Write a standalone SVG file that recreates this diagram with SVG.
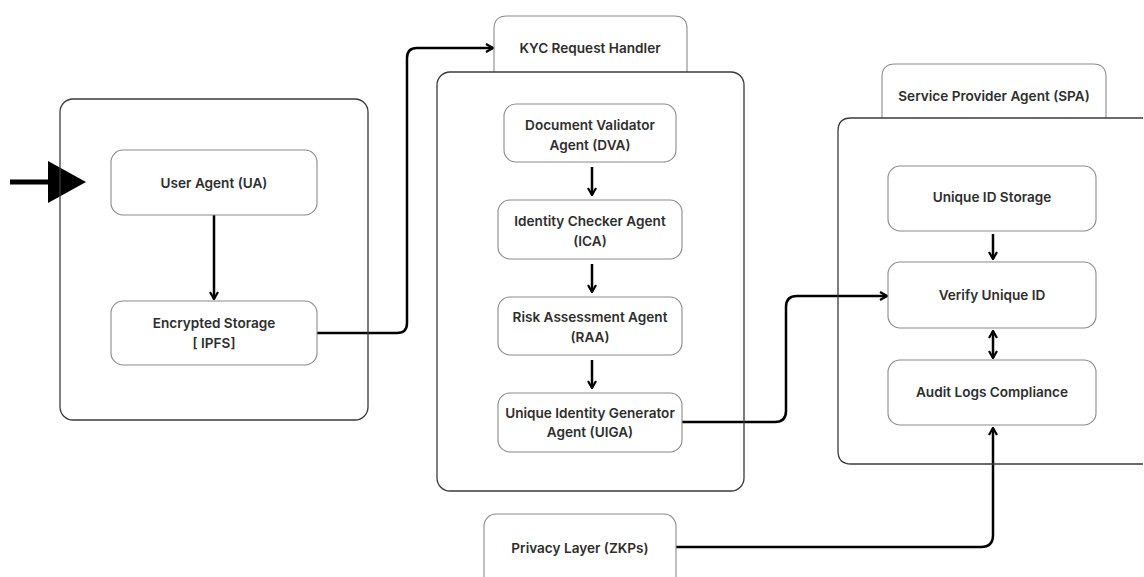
<svg xmlns="http://www.w3.org/2000/svg" width="1144" height="577" viewBox="0 0 1144 577">
  <defs>
    <style>
      .container { fill: none; stroke: #3a3a3a; stroke-width: 1.3; }
      .tab { fill: #ffffff; stroke: #8a8a8a; stroke-width: 1.1; }
      .box { fill: #ffffff; stroke: #8a8a8a; stroke-width: 1.1; }
      .label { font-family: Inter, "Liberation Sans", sans-serif; font-weight: 600; font-size: 13.6px; fill: #2e2e2e; text-anchor: middle; dominant-baseline: central; }
      .wire { fill: none; stroke: #000000; stroke-width: 2.5; stroke-linejoin: round; }
    </style>
    <marker id="head" viewBox="0 0 10 10" refX="9" refY="5" markerWidth="10" markerHeight="10" markerUnits="userSpaceOnUse" orient="auto-start-reverse">
      <path d="M2,1 L9,5 L2,9" fill="none" stroke="#000" stroke-width="2.2" stroke-linejoin="miter"/>
    </marker>
  </defs>
  <rect width="1144" height="577" fill="#ffffff"/>

  <!-- connectors -->
  <g id="connectors">
    <!-- incoming request -->
    <line x1="10" y1="182" x2="52" y2="182" stroke="#000" stroke-width="5"/>
    <polygon points="48,161 86,182 48,203" fill="#000"/>
    <!-- user agent to storage -->
    <line class="wire" x1="214" y1="215" x2="214" y2="299" marker-end="url(#head)"/>
    <!-- storage to KYC handler -->
    <path class="wire" d="M317,333 H397 Q407,333 407,323 V58 Q407,48 417,48 H493" marker-end="url(#head)"/>
    <!-- KYC pipeline -->
    <line class="wire" x1="592" y1="167" x2="592" y2="195" marker-end="url(#head)"/>
    <line class="wire" x1="592" y1="264" x2="592" y2="292" marker-end="url(#head)"/>
    <line class="wire" x1="592" y1="360" x2="592" y2="388" marker-end="url(#head)"/>
    <!-- UIGA to verify -->
    <path class="wire" d="M682,422 H775 Q786,422 786,411 V307 Q786,296 797,296 H887" marker-end="url(#head)"/>
    <!-- SPA internal -->
    <line class="wire" x1="993" y1="234" x2="993" y2="259" marker-end="url(#head)"/>
    <line class="wire" x1="993" y1="331" x2="993" y2="358" marker-start="url(#head)" marker-end="url(#head)"/>
    <!-- privacy layer to audit -->
    <path class="wire" d="M676,547 H981 Q993,547 993,535 V428" marker-end="url(#head)"/>
  </g>

  <!-- user side -->
  <g id="user-container">
    <rect class="container" x="60" y="99" width="308" height="321" rx="13"/>
  </g>
  <g id="user-agent">
    <rect class="box" x="111" y="150" width="206" height="65" rx="12"/>
    <text class="label" x="214" y="183">User Agent (UA)</text>
  </g>
  <g id="encrypted-storage">
    <rect class="box" x="111" y="301" width="206" height="64" rx="12"/>
    <text class="label" x="214" y="323">Encrypted Storage</text>
    <text class="label" x="214" y="343">[ IPFS]</text>
  </g>

  <!-- KYC request handler -->
  <g id="kyc-handler">
    <path class="tab" d="M494,72 V29 Q494,16 507,16 H674 Q687,16 687,29 V72"/>
    <text class="label" x="590" y="48">KYC Request Handler</text>
    <rect class="container" x="437" y="72" width="307" height="419" rx="13"/>
  </g>
  <g id="dva">
    <rect class="box" x="504" y="104" width="172" height="58" rx="12"/>
    <text class="label" x="590" y="125">Document Validator</text>
    <text class="label" x="590" y="145">Agent (DVA)</text>
  </g>
  <g id="ica">
    <rect class="box" x="498" y="200" width="184" height="59" rx="12"/>
    <text class="label" x="590" y="221">Identity Checker Agent</text>
    <text class="label" x="590" y="241">(ICA)</text>
  </g>
  <g id="raa">
    <rect class="box" x="498" y="297" width="184" height="58" rx="12"/>
    <text class="label" x="590" y="317">Risk Assessment Agent</text>
    <text class="label" x="590" y="337">(RAA)</text>
  </g>
  <g id="uiga">
    <rect class="box" x="498" y="393" width="184" height="59" rx="12"/>
    <text class="label" x="590" y="413">Unique Identity Generator</text>
    <text class="label" x="590" y="432">Agent (UIGA)</text>
  </g>

  <!-- service provider -->
  <g id="spa">
    <path class="tab" d="M882,118 V77 Q882,64 895,64 H1093 Q1106,64 1106,77 V118"/>
    <text class="label" x="994" y="96">Service Provider Agent (SPA)</text>
    <path class="container" d="M1143,118 H851 Q838,118 838,131 V451 Q838,464 851,464 H1143"/>
  </g>
  <g id="unique-id-storage">
    <rect class="box" x="888" y="166" width="208" height="65" rx="12"/>
    <text class="label" x="992" y="197">Unique ID Storage</text>
  </g>
  <g id="verify-unique-id">
    <rect class="box" x="888" y="262" width="208" height="66" rx="12"/>
    <text class="label" x="992" y="295">Verify Unique ID</text>
  </g>
  <g id="audit-logs">
    <rect class="box" x="888" y="360" width="208" height="65" rx="12"/>
    <text class="label" x="992" y="392">Audit Logs Compliance</text>
  </g>

  <!-- privacy layer -->
  <g id="privacy-layer">
    <rect class="box" x="484" y="514" width="192" height="76" rx="12"/>
    <text class="label" x="580" y="548">Privacy Layer (ZKPs)</text>
  </g>
</svg>
